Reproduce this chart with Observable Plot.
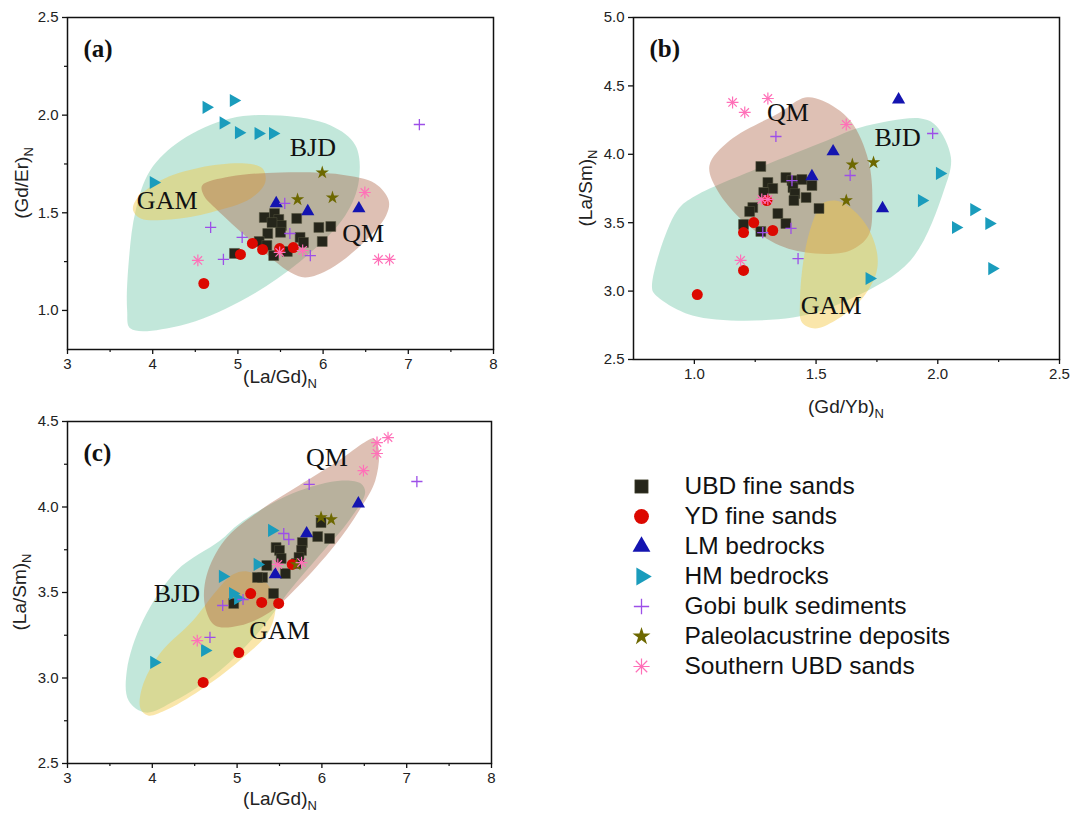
<!DOCTYPE html>
<html><head><meta charset="utf-8">
<script src="https://cdn.jsdelivr.net/npm/d3@7"></script>
<script src="https://cdn.jsdelivr.net/npm/@observablehq/plot@0.6"></script>
<style>
body{margin:0;background:#fff;}
#root{position:relative;width:1073px;height:819px;overflow:hidden;font-family:"Liberation Sans",Arial,sans-serif;}
#root > div{position:absolute;}
</style></head><body><div id="root"></div>
<script>
// ---------- series names ----------
const seriesKeys = ["UBD","YD","LM","HM","Gobi","Paleo","South"];
const seriesLabels = ["UBD fine sands","YD fine sands","LM bedrocks","HM bedrocks","Gobi bulk sediments","Paleolacustrine deposits","Southern UBD sands"];

// ---------- panel (a): (La/Gd)N vs (Gd/Er)N ----------
const aUBD = [[5.31,1.476],[5.43,1.496],[5.48,1.466],[5.51,1.435],[5.69,1.471],[5.35,1.394],[5.95,1.425],[6.09,1.430],[5.25,1.353],[5.34,1.333],[5.73,1.374],[5.77,1.348],[5.99,1.353],[5.42,1.281],[5.58,1.302],[4.96,1.292],[5.40,1.45],[5.50,1.40]];
const aYD = [[5.17,1.343],[5.29,1.312],[5.03,1.287],[5.49,1.317],[5.65,1.322],[4.60,1.138]];
const aLM = [[5.45,1.548],[5.82,1.507],[6.42,1.522]];
const aHM = [[4.63,2.04],[4.95,2.075],[4.83,1.96],[5.01,1.91],[5.24,1.906],[5.41,1.906],[4.01,1.655]];
const aGobi = [[5.55,1.548],[4.68,1.425],[5.05,1.374],[5.61,1.394],[4.83,1.261],[5.85,1.281],[7.13,1.952]];
const aPaleo = [[5.99,1.706],[5.70,1.568],[6.11,1.578]];
const aSouth = [[4.53,1.256],[6.49,1.604],[6.65,1.261],[6.78,1.261],[5.49,1.297],[5.76,1.307]];
const aBJD = [[3.74,0.907],[4.33,0.923],[5.03,1.047],[5.73,1.251],[6.26,1.486],[6.42,1.665],[6.38,1.845],[6.09,1.947],[5.50,1.998],[4.91,1.983],[4.33,1.870],[3.97,1.717],[3.80,1.512],[3.72,1.256],[3.70,1.0]];
const aGAM = [[3.80,1.563],[4.09,1.665],[4.56,1.732],[5.09,1.752],[5.29,1.727],[5.32,1.655],[5.15,1.573],[4.68,1.502],[4.21,1.466],[3.86,1.471],[3.77,1.512]];
const aQM = [[4.58,1.640],[4.91,1.686],[5.50,1.706],[6.20,1.696],[6.61,1.650],[6.77,1.563],[6.74,1.486],[6.50,1.358],[6.09,1.215],[5.79,1.169],[5.62,1.194],[5.15,1.358],[4.74,1.522],[4.60,1.589]];
const aRegionLabels = [["BJD",5.88,1.835],["GAM",4.17,1.563],["QM",6.47,1.394]];

// ---------- panel (b): (Gd/Yb)N vs (La/Sm)N ----------
const bUBD = [[1.273,3.911],[1.302,3.794],[1.322,3.750],[1.285,3.721],[1.376,3.830],[1.401,3.808],[1.442,3.816],[1.483,3.772],[1.405,3.757],[1.413,3.713],[1.409,3.662],[1.459,3.684],[1.240,3.611],[1.227,3.582],[1.343,3.567],[1.376,3.494],[1.512,3.604],[1.202,3.487],[1.273,3.436]];
const bYD = [[1.012,2.975],[1.202,3.151],[1.202,3.428],[1.244,3.501],[1.322,3.443],[1.298,3.662]];
const bLM = [[1.839,4.40],[1.570,4.020],[1.483,3.838],[1.773,3.604]];
const bHM = [[2.008,3.860],[1.934,3.662],[2.074,3.465],[2.149,3.596],[2.211,3.494],[2.223,3.165],[1.719,3.092]];
const bGobi = [[1.335,4.130],[1.979,4.152],[1.640,3.845],[1.401,3.808],[1.397,3.458],[1.426,3.238],[1.281,3.428]];
const bPaleo = [[1.649,3.925],[1.736,3.940],[1.624,3.662]];
const bSouth = [[1.157,4.379],[1.207,4.306],[1.302,4.408],[1.624,4.218],[1.19,3.224],[1.277,3.67],[1.302,3.67]];
const bBJD = [[0.835,2.982],[0.992,2.822],[1.405,2.807],[1.653,2.953],[1.888,3.224],[2.025,3.735],[2.054,3.977],[1.992,4.211],[1.930,4.262],[1.682,4.196],[1.545,4.101],[1.269,3.904],[0.992,3.684],[0.93,3.589],[0.855,3.275],[0.826,3.026]];
const bQM = [[1.062,3.918],[1.145,4.101],[1.351,4.306],[1.455,4.415],[1.525,4.393],[1.640,4.247],[1.715,3.955],[1.731,3.626],[1.715,3.406],[1.640,3.297],[1.496,3.275],[1.351,3.333],[1.207,3.501],[1.095,3.735]];
const bGAM = [[1.496,3.553],[1.525,3.640],[1.579,3.662],[1.640,3.611],[1.715,3.458],[1.752,3.260],[1.744,3.114],[1.682,2.931],[1.579,2.785],[1.496,2.727],[1.442,2.770],[1.434,2.931],[1.455,3.297]];
const bRegionLabels = [["QM",1.384,4.306],["BJD",1.835,4.123],["GAM",1.562,2.895]];

// ---------- panel (c): (La/Gd)N vs (La/Sm)N ----------
const cUBD = [[5.99,3.909],[5.95,3.827],[6.09,3.816],[5.77,3.792],[5.76,3.746],[5.73,3.705],[5.46,3.763],[5.50,3.746],[5.52,3.699],[5.35,3.658],[5.57,3.611],[5.30,3.588],[5.24,3.588],[5.43,3.494],[4.96,3.436],[5.70,3.67]];
const cYD = [[5.65,3.664],[5.16,3.494],[5.29,3.442],[5.49,3.436],[5.02,3.149],[4.60,2.974]];
const cLM = [[6.43,4.020],[5.82,3.845],[5.45,3.605]];
const cHM = [[5.41,3.863],[5.24,3.664],[4.83,3.594],[4.95,3.494],[5.01,3.465],[4.02,3.091],[4.62,3.161]];
const cGobi = [[5.85,4.132],[5.55,3.845],[5.61,3.810],[4.83,3.424],[5.07,3.459],[4.68,3.237],[7.12,4.149]];
const cPaleo = [[5.99,3.939],[6.11,3.927],[5.70,3.664]];
const cSouth = [[6.65,4.377],[6.78,4.406],[6.65,4.313],[6.49,4.213],[4.53,3.219],[5.76,3.675],[5.48,3.664]];
const cBJD = [[3.72,2.868],[3.70,3.044],[3.89,3.336],[4.29,3.629],[4.80,3.804],[5.03,3.904],[5.65,4.079],[6.24,4.155],[6.46,4.137],[6.51,4.085],[6.32,3.921],[5.97,3.716],[5.62,3.512],[5.27,3.278],[4.80,3.044],[4.27,2.868],[3.92,2.798]];
const cGAM = [[3.86,2.822],[3.88,2.944],[4.09,3.143],[4.48,3.336],[4.76,3.512],[4.95,3.605],[5.12,3.623],[5.32,3.570],[5.45,3.453],[5.38,3.278],[5.03,3.102],[4.56,2.927],[4.15,2.810],[3.95,2.781]];
const cQM = [[4.85,3.804],[5.27,3.980],[5.73,4.126],[6.20,4.272],[6.50,4.377],[6.61,4.401],[6.67,4.342],[6.63,4.155],[6.44,3.980],[6.15,3.775],[5.73,3.541],[5.38,3.383],[5.03,3.307],[4.74,3.307],[4.62,3.424],[4.64,3.599]];
const cRegionLabels = [["QM",6.06,4.289],["BJD",4.29,3.494],["GAM",5.50,3.278]];

// ---------- ticks ----------
const aXTicks = [3,4,5,6,7,8], aXMinor = [3.5,4.5,5.5,6.5,7.5];
const aYTicks = [1.0,1.5,2.0,2.5], aYMinor = [1.25,1.75,2.25];
const bXTicks = [1.0,1.5,2.0,2.5], bXMinor = [1.25,1.75,2.25];
const bYTicks = [2.5,3.0,3.5,4.0,4.5,5.0], bYMinor = [];
const cXTicks = [3,4,5,6,7,8], cXMinor = [3.5,4.5,5.5,6.5,7.5];
const cYTicks = [2.5,3.0,3.5,4.0,4.5], cYMinor = [2.75,3.25,3.75,4.25];

// ---------- styles ----------
const regionStyle = {
  BJD: {fill:"#5fbf9f", fillOpacity:0.38},
  GAM: {fill:"#f5c842", fillOpacity:0.45},
  QM:  {fill:"#a85a3a", fillOpacity:0.38}
};
const SANS = "Liberation Sans, Arial, sans-serif";
const SERIF = "Liberation Serif, Times New Roman, serif";

function seriesMarks(key, data, k, xa, ya) {
  const x = xa || (d => d[0]), y = ya || (d => d[1]);
  switch (key) {
    case "UBD": return [Plot.dot(data, {x, y, symbol:"square", r:5.6*k, fill:"#25251a", stroke:"#55553f", strokeWidth:0.5})];
    case "YD": return [Plot.dot(data, {x, y, symbol:"circle", r:5.5*k, fill:"#dc0800"})];
    case "LM": return [Plot.dot(data, {x, y, symbol:"triangle", r:4.9*k, fill:"#1414b0"})];
    case "HM": return [Plot.dot(data, {x, y, symbol:"triangle", r:4.9*k, fill:"#1a9cbc", rotate:90})];
    case "Gobi": return [Plot.dot(data, {x, y, symbol:"plus", r:3.7*k, stroke:"#9d4fe8", strokeWidth:1.3})];
    case "Paleo": return [Plot.dot(data, {x, y, symbol:"star", r:4.2*k, fill:"#6d6800"})];
    case "South": return [
      Plot.dot(data, {x, y, symbol:"plus", r:3.9*k, stroke:"#ff70b8", strokeWidth:1.2}),
      Plot.dot(data, {x, y, symbol:"times", r:3.9*k, stroke:"#ff70b8", strokeWidth:1.2})
    ];
  }
}

function addTitles(svg, xt, xpos, yt, ypos) {
  const s = d3.select(svg);
  const tx = s.append("text").attr("x", xpos[0]).attr("y", xpos[1]).attr("text-anchor","middle")
    .style("font-family", SANS).style("font-size","19px").attr("fill","#222");
  tx.append("tspan").text(xt);
  tx.append("tspan").attr("dy", 5).style("font-size","13px").text("N");
  const ty = s.append("text").attr("transform", `translate(${ypos[0]},${ypos[1]}) rotate(-90)`).attr("text-anchor","middle")
    .style("font-family", SANS).style("font-size","19px").attr("fill","#222");
  ty.append("tspan").text(yt);
  ty.append("tspan").attr("dy", 5).style("font-size","13px").text("N");
}

function panel(p) {
  const marks = [];
  for (const [name, pts] of p.regions)
    marks.push(Plot.line(pts, {x:d=>d[0], y:d=>d[1], curve:"catmull-rom-closed", stroke:"none", ...regionStyle[name]}));
  marks.push(Plot.text(p.regionLabels, {x:d=>d[1], y:d=>d[2], text:d=>d[0], fontFamily:SERIF, fontSize:26, fill:"#111"}));
  for (const key of seriesKeys) marks.push(...seriesMarks(key, p.series[key], 1));
  marks.push(Plot.frame({stroke:"#111", strokeWidth:1.5}));
  const fx = p.xFmt, fy = p.yFmt;
  marks.push(Plot.axisX({ticks:p.xTicks, tickSize:5, tickPadding:4, tickFormat:fx, label:null, stroke:"#111", strokeWidth:1.3, fill:"#222"}));
  if (p.xMinor.length) marks.push(Plot.axisX({ticks:p.xMinor, tickSize:3, tickFormat:()=>"", label:null, stroke:"#111", strokeWidth:1.2}));
  marks.push(Plot.axisY({ticks:p.yTicks, tickSize:5, tickPadding:4, tickFormat:fy, label:null, stroke:"#111", strokeWidth:1.3, fill:"#222"}));
  if (p.yMinor.length) marks.push(Plot.axisY({ticks:p.yMinor, tickSize:3, tickFormat:()=>"", label:null, stroke:"#111", strokeWidth:1.2}));
  marks.push(Plot.text([p.tag], {frameAnchor:"top-left", dx:16, dy:22, text:d=>d, textAnchor:"start", fontFamily:SERIF, fontWeight:"bold", fontSize:25, fill:"#111"}));
  const chart = Plot.plot({
    width:p.width, height:p.height,
    marginLeft:p.m[0], marginRight:p.m[1], marginTop:p.m[2], marginBottom:p.m[3],
    x:{domain:p.xDomain}, y:{domain:p.yDomain},
    style:{fontFamily:SANS, fontSize:"15px", background:"transparent", overflow:"visible", color:"#222"},
    marks
  });
  addTitles(chart, p.xTitle, p.xTitlePos, p.yTitle, p.yTitlePos);
  const div = document.createElement("div");
  div.style.left = p.left + "px"; div.style.top = p.top + "px";
  div.appendChild(chart);
  document.getElementById("root").appendChild(div);
}

const f1 = d3.format(".1f"), f0 = d3.format("d");

panel({left:0, top:0, width:560, height:400, m:[67,67,17,51],
  xDomain:[3,8], yDomain:[0.8,2.5], xTicks:aXTicks, xMinor:aXMinor, yTicks:aYTicks, yMinor:aYMinor, xFmt:f0, yFmt:f1,
  regions:[["BJD",aBJD],["GAM",aGAM],["QM",aQM]], regionLabels:aRegionLabels,
  series:{UBD:aUBD, YD:aYD, LM:aLM, HM:aHM, Gobi:aGobi, Paleo:aPaleo, South:aSouth},
  tag:"(a)", xTitle:"(La/Gd)", xTitlePos:[280,383], yTitle:"(Gd/Er)", yTitlePos:[28,183]});

panel({left:540, top:0, width:533, height:420, m:[93,14,17,61],
  xDomain:[0.75,2.5], yDomain:[2.5,5.0], xTicks:bXTicks, xMinor:bXMinor, yTicks:bYTicks, yMinor:bYMinor, xFmt:f1, yFmt:f1,
  regions:[["BJD",bBJD],["QM",bQM],["GAM",bGAM]], regionLabels:bRegionLabels,
  series:{UBD:bUBD, YD:bYD, LM:bLM, HM:bHM, Gobi:bGobi, Paleo:bPaleo, South:bSouth},
  tag:"(b)", xTitle:"(Gd/Yb)", xTitlePos:[306,413], yTitle:"(La/Sm)", yTitlePos:[52,188]});

panel({left:0, top:400, width:560, height:419, m:[67,69,21,56],
  xDomain:[3,8], yDomain:[2.5,4.5], xTicks:cXTicks, xMinor:cXMinor, yTicks:cYTicks, yMinor:cYMinor, xFmt:f0, yFmt:f1,
  regions:[["BJD",cBJD],["GAM",cGAM],["QM",cQM]], regionLabels:cRegionLabels,
  series:{UBD:cUBD, YD:cYD, LM:cLM, HM:cHM, Gobi:cGobi, Paleo:cPaleo, South:cSouth},
  tag:"(c)", xTitle:"(La/Gd)", xTitlePos:[280,405], yTitle:"(La/Sm)", yTitlePos:[26,192]});

// ---------- legend ----------
{
  const marks = [];
  seriesKeys.forEach((key, i) => {
    marks.push(...seriesMarks(key, [seriesLabels[i]], 1.35, () => 0, d => d));
  });
  marks.push(Plot.text(seriesLabels, {x:()=>1, y:d=>d, text:d=>d, textAnchor:"start", fontFamily:SANS, fontSize:24.5, fill:"#111"}));
  const leg = Plot.plot({
    width:420, height:230, margin:0,
    x:{domain:[0,1], range:[41,84], axis:null},
    y:{type:"point", domain:seriesLabels, range:[24,208], padding:0, axis:null},
    style:{background:"transparent", overflow:"visible"},
    marks
  });
  const div = document.createElement("div");
  div.style.left = "600px"; div.style.top = "460px";
  div.appendChild(leg);
  document.getElementById("root").appendChild(div);
}
</script></body></html>
